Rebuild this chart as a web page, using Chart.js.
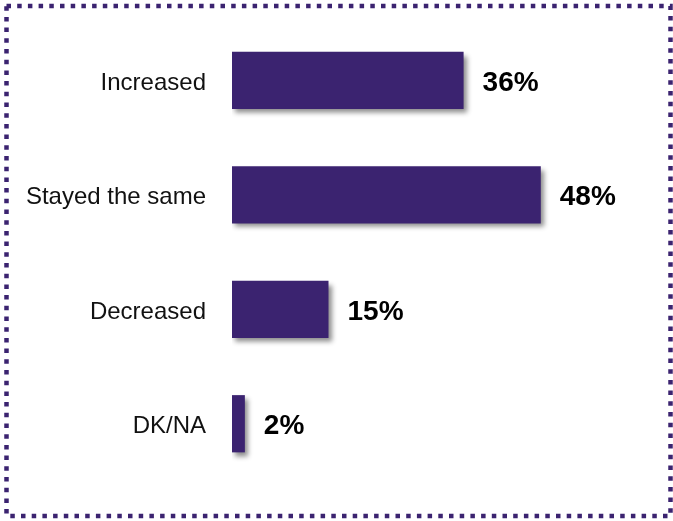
<!DOCTYPE html>
<html>
<head>
<meta charset="utf-8">
<script src="https://cdn.jsdelivr.net/npm/chart.js@4.4.1/dist/chart.umd.min.js"></script>
<style>
  html, body { margin: 0; padding: 0; background: #fff; }
  #wrap { position: relative; width: 673px; height: 521px; }
</style>
</head>
<body>
<div id="wrap"><canvas id="chart" width="673" height="521"></canvas></div>
<script>
// Chart data
const categories = ['Increased', 'Stayed the same', 'Decreased', 'DK/NA'];
const shares = [36, 48, 15, 2];
const valueLabels = ['36%', '48%', '15%', '2%'];

const barColor = '#3b2370';

// Soft shadow under the bars
const shadowPlugin = {
    id: 'barShadow',
    beforeDatasetsDraw(chart) {
        const ctx = chart.ctx;
        ctx.save();
        ctx.shadowColor = 'rgba(0,0,0,0.45)';
        ctx.shadowBlur = 5;
        ctx.shadowOffsetX = 3;
        ctx.shadowOffsetY = 4;
    },
    afterDatasetsDraw(chart) {
        chart.ctx.restore();
    }
};

// Bold value labels to the right of each bar
const valueLabelPlugin = {
    id: 'valueLabels',
    afterDatasetsDraw(chart) {
        const ctx = chart.ctx;
        const meta = chart.getDatasetMeta(0);
        ctx.save();
        ctx.font = 'bold 28px "Liberation Sans", Arial, sans-serif';
        ctx.fillStyle = '#000';
        ctx.textAlign = 'left';
        ctx.textBaseline = 'middle';
        meta.data.forEach((bar, i) => {
            ctx.fillText(valueLabels[i], bar.x + 19, bar.y + 3);
        });
        ctx.restore();
    }
};

// Dotted frame round the chart
const framePlugin = {
    id: 'frame',
    afterDraw(chart) {
        const ctx = chart.ctx;
        ctx.save();
        ctx.strokeStyle = barColor;
        ctx.lineWidth = 4.5;
        ctx.setLineDash([4.5, 6.2]);
        ctx.strokeRect(6.5, 6, 664, 510);
        ctx.restore();
    }
};

const ctx = document.getElementById('chart').getContext('2d');
new Chart(ctx, {
    type: 'bar',
    data: {
        labels: categories,
        datasets: [{
            data: shares,
            backgroundColor: barColor,
            borderWidth: 0,
            categoryPercentage: 1.0,
            barPercentage: 0.5
        }]
    },
    options: {
        indexAxis: 'y',
        responsive: false,
        animation: false,
        layout: {
            padding: { top: 23, bottom: 40, right: 55, left: 0 }
        },
        plugins: {
            legend: { display: false },
            tooltip: { enabled: false }
        },
        scales: {
            x: {
                display: false,
                min: 0,
                max: 60
            },
            y: {
                grid: { display: false, drawTicks: false },
                border: { display: false },
                ticks: {
                    padding: 26,
                    labelOffset: 3,
                    color: '#111',
                    font: { family: '"Liberation Sans", Arial, sans-serif', size: 24 }
                },
                afterFit(scale) {
                    scale.width = 232;
                    scale.paddingTop = 0;
                    scale.paddingBottom = 0;
                }
            }
        }
    },
    plugins: [shadowPlugin, valueLabelPlugin, framePlugin]
});
</script>
</body>
</html>
